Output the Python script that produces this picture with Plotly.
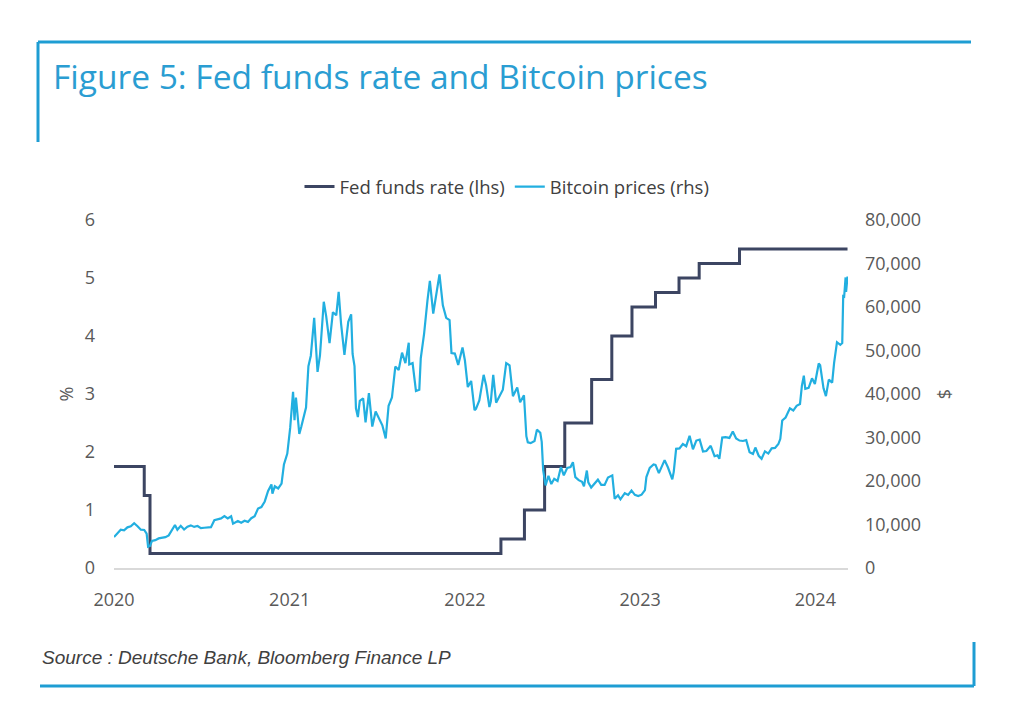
import plotly.graph_objs as go

# Fed funds target rate (upper bound), %
fed_dates = ["2020-01-01", "2020-03-04", "2020-03-16", "2022-03-17", "2022-05-05",
             "2022-06-16", "2022-07-28", "2022-09-22", "2022-11-03", "2022-12-15",
             "2023-02-02", "2023-03-23", "2023-05-04", "2023-07-27", "2024-03-08"]
fed_rate = [1.75, 1.25, 0.25, 0.5, 1.0, 1.75, 2.5, 3.25, 4.0, 4.5, 4.75, 5.0, 5.25, 5.5, 5.5]

# Bitcoin price, USD
btc_dates = [
    "2020-01-01", "2020-01-08", "2020-01-15", "2020-01-22", "2020-01-29", "2020-02-05", "2020-02-12",
    "2020-02-19", "2020-02-26", "2020-03-04", "2020-03-09", "2020-03-12", "2020-03-16", "2020-03-20",
    "2020-03-27", "2020-04-03", "2020-04-10", "2020-04-17", "2020-04-24", "2020-04-30", "2020-05-07",
    "2020-05-12", "2020-05-19", "2020-05-26", "2020-06-02", "2020-06-09", "2020-06-16", "2020-06-23",
    "2020-06-30", "2020-07-07", "2020-07-14", "2020-07-21", "2020-07-28", "2020-08-04", "2020-08-11",
    "2020-08-18", "2020-08-25", "2020-09-01", "2020-09-05", "2020-09-15", "2020-09-22", "2020-09-29",
    "2020-10-06", "2020-10-13", "2020-10-20", "2020-10-27", "2020-11-03", "2020-11-10", "2020-11-17",
    "2020-11-24", "2020-11-26", "2020-12-01", "2020-12-08", "2020-12-15", "2020-12-20", "2020-12-27",
    "2021-01-02", "2021-01-08", "2021-01-11", "2021-01-14", "2021-01-21", "2021-01-25", "2021-01-29",
    "2021-02-04", "2021-02-09", "2021-02-14", "2021-02-21", "2021-02-28", "2021-03-05", "2021-03-13",
    "2021-03-18", "2021-03-25", "2021-04-01", "2021-04-08", "2021-04-13", "2021-04-18", "2021-04-25",
    "2021-05-03", "2021-05-09", "2021-05-12", "2021-05-16", "2021-05-19", "2021-05-23", "2021-05-27",
    "2021-06-03", "2021-06-08", "2021-06-15", "2021-06-22", "2021-06-29", "2021-07-06", "2021-07-13",
    "2021-07-20", "2021-07-26", "2021-08-02", "2021-08-09", "2021-08-16", "2021-08-23", "2021-08-30",
    "2021-09-06", "2021-09-07", "2021-09-14", "2021-09-21", "2021-09-28", "2021-10-01", "2021-10-08",
    "2021-10-15", "2021-10-20", "2021-10-27", "2021-11-02", "2021-11-09", "2021-11-16", "2021-11-23",
    "2021-11-30", "2021-12-04", "2021-12-11", "2021-12-18", "2021-12-27",
    "2022-01-01", "2022-01-07", "2022-01-14", "2022-01-21", "2022-01-24", "2022-01-31", "2022-02-09",
    "2022-02-14", "2022-02-21", "2022-02-24", "2022-03-01", "2022-03-07", "2022-03-14", "2022-03-21",
    "2022-03-28", "2022-04-04", "2022-04-11", "2022-04-20", "2022-04-26", "2022-05-04", "2022-05-09",
    "2022-05-12", "2022-05-18", "2022-05-26", "2022-05-31", "2022-06-07", "2022-06-10", "2022-06-13",
    "2022-06-18", "2022-06-24", "2022-06-30", "2022-07-06", "2022-07-13", "2022-07-20", "2022-07-26",
    "2022-08-02", "2022-08-09", "2022-08-14", "2022-08-19", "2022-08-26", "2022-09-02", "2022-09-06",
    "2022-09-12", "2022-09-15", "2022-09-21", "2022-09-28", "2022-10-05", "2022-10-12", "2022-10-19",
    "2022-10-26", "2022-11-04", "2022-11-09", "2022-11-16", "2022-11-21", "2022-11-30", "2022-12-07",
    "2022-12-14", "2022-12-21", "2022-12-28",
    "2023-01-04", "2023-01-11", "2023-01-14", "2023-01-21", "2023-01-29", "2023-02-02", "2023-02-09",
    "2023-02-16", "2023-02-21", "2023-02-28", "2023-03-09", "2023-03-12", "2023-03-17", "2023-03-24",
    "2023-03-31", "2023-04-07", "2023-04-14", "2023-04-21", "2023-04-28", "2023-05-05", "2023-05-12",
    "2023-05-19", "2023-05-28", "2023-06-05", "2023-06-11", "2023-06-15", "2023-06-21", "2023-06-28",
    "2023-07-06", "2023-07-13", "2023-07-20", "2023-07-27", "2023-08-03", "2023-08-10", "2023-08-17",
    "2023-08-24", "2023-08-29", "2023-09-05", "2023-09-11", "2023-09-18", "2023-09-25", "2023-10-02",
    "2023-10-09", "2023-10-16", "2023-10-20", "2023-10-24", "2023-10-31", "2023-11-09", "2023-11-16",
    "2023-11-23", "2023-11-30", "2023-12-04", "2023-12-08", "2023-12-11", "2023-12-18", "2023-12-25",
    "2023-12-31",
    "2024-01-08", "2024-01-11", "2024-01-18", "2024-01-23", "2024-01-29", "2024-02-05", "2024-02-09",
    "2024-02-15", "2024-02-22", "2024-02-26", "2024-02-28", "2024-03-01", "2024-03-04", "2024-03-05",
    "2024-03-08"]
btc_usd = [
    7100, 8000, 8800, 8650, 9350, 9600, 10300,
    9600, 8800, 8750, 7900, 4900, 5100, 6200,
    6400, 6800, 6900, 7100, 7500, 8600, 9900,
    8800, 9700, 8850, 9500, 9800, 9450, 9650,
    9150, 9250, 9250, 9400, 11000, 11200, 11400,
    11950, 11400, 11900, 10200, 10800, 10400, 10850,
    10600, 11450, 11900, 13650, 14000, 15300, 17700,
    19200, 17100, 18800, 18300, 19400, 23800, 26300,
    32200, 40500, 34000, 39200, 30800, 32400, 34300,
    36900, 46400, 48800, 57500, 45100, 48800, 61200,
    57900, 51700, 58800, 58100, 63500, 56200, 49000,
    56600, 58300, 49200, 46400, 36700, 34700, 38400,
    39000, 33500, 40200, 32500, 36000, 34200, 32800,
    29800, 37300, 39200, 46300, 45500, 49500, 47100,
    51800, 46800, 47100, 40700, 41000, 48200, 53900,
    61500, 66000, 58500, 63200, 67500, 60400, 57500,
    57000, 49400, 49300, 46700, 50700,
    47700, 41600, 43000, 36300, 36600, 38500, 44400,
    42100, 37000, 38300, 44400, 38000, 39700, 41000,
    47100, 46600, 39500, 41500, 38100, 39700, 30300,
    28900, 28700, 29200, 31800, 31100, 29000, 22500,
    19000, 21200, 19300, 20500, 20000, 23200, 21300,
    23000, 23200, 24300, 20900, 20200, 19800, 18800,
    22400, 19700, 18500, 19400, 20300, 19100, 19100,
    20800, 21300, 15900, 16700, 15800, 17200, 16800,
    17800, 16800, 16550,
    16850, 17900, 20900, 23000, 23800, 23700, 21800,
    23600, 24800, 23100, 20400, 22100, 27400, 27500,
    28500, 28000, 30400, 27300, 29300, 29500, 26800,
    26900, 28100, 25700, 25900, 25100, 30000, 30100,
    29900, 31400, 29800, 29300, 29200, 29400, 26600,
    26200, 27700, 25800, 25100, 26800, 26300, 27500,
    27600, 28500, 29700, 33900, 34600, 36700, 36200,
    37300, 37700, 41900, 44200, 41200, 41400, 43600,
    42300,
    47000, 46600, 41300, 39500, 43300, 42600, 47100,
    51900, 51300, 51700, 62500, 62400, 66800, 63500,
    67000]

year_ticks = ["2020-01-01", "2021-01-01", "2022-01-01", "2023-01-01", "2024-01-01"]
year_labels = ["2020", "2021", "2022", "2023", "2024"]

FED_COLOR = "#3c4562"
BTC_COLOR = "#22afe0"
FRAME_BLUE = "#1e9dd3"
TICK_FONT = dict(family="Open Sans", size=18, color="#595959")

# the page body adds an 8px offset, so everything is placed 8px up/left
OFF = 8
W, H = 1024, 724
# plot area in screen pixels
L, R, T, B = 114 - OFF, 848 - OFF, 220 - OFF, 568 - OFF


def px(x):
    return (x - OFF - L) / (R - L)


def py(y):
    return (B - (y - OFF)) / (B - T)


fig = go.Figure()
fig.add_trace(
    go.Scatter(
        x=fed_dates,
        y=fed_rate,
        mode="lines",
        line=dict(color=FED_COLOR, width=3, shape="hv"),
        name="Fed funds rate (lhs)",
        yaxis="y",
    )
)
fig.add_trace(
    go.Scatter(
        x=btc_dates,
        y=btc_usd,
        mode="lines",
        line=dict(color=BTC_COLOR, width=2.2),
        name="Bitcoin prices (rhs)",
        yaxis="y2",
    )
)

frame = [
    (38, 42, 971, 42),
    (38, 42, 38, 142),
    (40, 686, 974, 686),
    (974, 642, 974, 686),
]
shapes = [
    dict(type="line", xref="paper", yref="paper",
         x0=px(a), y0=py(b), x1=px(c), y1=py(d),
         line=dict(color=FRAME_BLUE, width=3))
    for a, b, c, d in frame
]

fig.update_layout(
    width=W,
    height=H,
    margin=dict(l=L, r=W - R, t=T, b=H - B, autoexpand=False),
    paper_bgcolor="white",
    plot_bgcolor="white",
    title=dict(
        text="Figure 5: Fed funds rate and Bitcoin prices",
        font=dict(family="Open Sans", size=33.5, color="#2a9dd2"),
        x=(53 - OFF) / W, xanchor="left", xref="container",
        y=1 - (77 - OFF) / H, yanchor="middle", yref="container",
    ),
    legend=dict(
        orientation="h",
        x=(507 - OFF) / W, xanchor="center", xref="container",
        y=1 - (187 - OFF) / H, yanchor="middle", yref="container",
        font=dict(family="Open Sans", size=18.5, color="#404040"),
        itemwidth=30,
        bgcolor="rgba(0,0,0,0)",
    ),
    shapes=shapes,
    annotations=[
        dict(
            text="<i>Source : Deutsche Bank, Bloomberg Finance LP</i>",
            xref="paper", yref="paper", x=px(40), y=py(657),
            xanchor="left", yanchor="middle", showarrow=False,
            font=dict(family="Liberation Sans", size=19, color="#404040"),
        )
    ],
    xaxis=dict(
        type="date",
        range=["2020-01-01", "2024-03-09"],
        tickvals=year_ticks,
        ticktext=year_labels,
        tickfont=TICK_FONT,
        showgrid=False,
        zeroline=False,
        showline=True,
        linecolor="#d9d9d9",
        linewidth=1.5,
        ticks="",
        ticklabelstandoff=15,
    ),
    yaxis=dict(
        range=[0, 6],
        dtick=1,
        tickfont=TICK_FONT,
        showgrid=False,
        zeroline=False,
        ticks="",
        ticklabelstandoff=18,
        title=dict(text="%", font=dict(family="Open Sans", size=18, color="#595959"), standoff=6),
    ),
    yaxis2=dict(
        range=[0, 80000],
        dtick=10000,
        tickformat=",",
        overlaying="y",
        side="right",
        tickfont=TICK_FONT,
        showgrid=False,
        zeroline=False,
        ticks="",
        ticklabelstandoff=16,
        title=dict(text="$", font=dict(family="Open Sans", size=18, color="#595959"), standoff=18),
    ),
)

fig.write_html("out.html")
